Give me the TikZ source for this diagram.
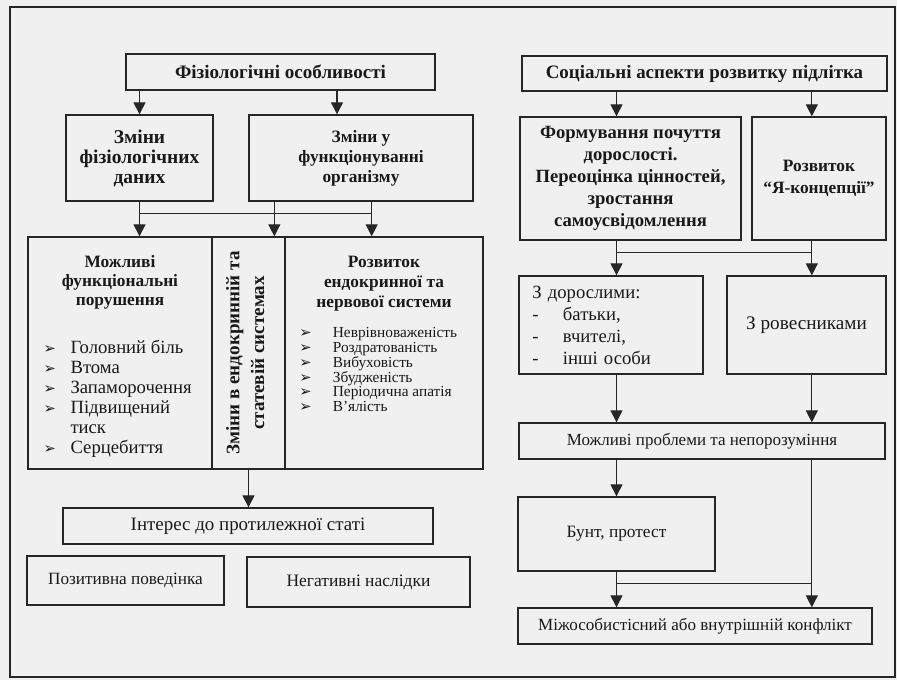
\documentclass[tikz,border=0pt]{standalone}
\usepackage{fontspec}
\setmainfont{Liberation Serif}
\newfontfamily\symfont{DejaVu Sans}
\usetikzlibrary{arrows.meta, positioning}
\tikzset{
  box/.style={
    draw,
    rectangle,
    line width=1pt,
    align=center,
    inner sep=0pt,
    font=\fontsize{13}{15}\selectfont
  },
  boldbox/.style={
    box,
    font=\fontsize{13}{16}\selectfont\bfseries
  },
  arrow/.style={
    -{Triangle[length=9pt,width=9pt]},
    line width=0.9pt
  },
  link/.style={
    line width=0.9pt
  }
}
\newcommand{\pnt}{{\symfont\fontsize{11}{11}\selectfont ➢}}

\begin{document}
\begin{tikzpicture}[x=0.75pt,y=-0.75pt, draw=black!85, text=black!90]

\useasboundingbox (0,0) rectangle (897,680);
\fill[black!6] (0,0) rectangle (897,680);
\draw[line width=2pt] (10,7) rectangle (895,677);

% --- Ліва гілка: фізіологія ---
\node[boldbox, minimum width=231.75pt, minimum height=27pt, font=\fontsize{14.3}{16}\selectfont\bfseries] (fiz) at (280.5,72) {Фізіологічні особливості};
\node[boldbox, minimum width=110.25pt, minimum height=64.5pt, font=\fontsize{14.6}{15}\selectfont\bfseries] (zmfiz) at (139.5,158) {Зміни\\фізіологічних\\даних};
\node[boldbox, minimum width=168pt, minimum height=64.5pt, font=\fontsize{13}{15}\selectfont\bfseries] (zmorg) at (361,158) {Зміни у\\функціонуванні\\організму};

% --- Три колонки ---
\node[box, minimum width=138pt, minimum height=174pt] (col1) at (120,353) {};
\node[box, minimum width=54.75pt, minimum height=174pt] (col2) at (248.5,353) {};
\node[box, minimum width=148.5pt, minimum height=174pt] (col3) at (384,353) {};

\node[below=11pt of col1.north, align=center, font=\fontsize{13}{14}\selectfont\bfseries] (col1title) {Можливі\\функціональні\\порушення};
\coordinate (l1) at ([xshift=12pt,yshift=-19pt]col1title.south -| col1.west);
\node[anchor=north west, inner sep=0pt, font=\fontsize{14}{15}\selectfont] (col1list) at (l1)
{\begin{tabular}{@{}l@{\hspace{11pt}}l@{}}
\pnt & Головний біль\\
\pnt & Втома\\
\pnt & Запаморочення\\
\pnt & Підвищений\\
     & тиск\\
\pnt & Серцебиття
\end{tabular}};

\node[rotate=90, align=center, inner sep=0pt, font=\fontsize{14.3}{18.5}\selectfont\bfseries] (col2text) at ([xshift=-2.5pt]col2.center) {Зміни в ендокринній та\\статевій системах};

\node[below=11pt of col3.north, align=center, font=\fontsize{13}{15}\selectfont\bfseries] (col3title) {Розвиток\\ендокринної та\\нервової системи};
\coordinate (l3) at ([xshift=11pt,yshift=-9pt]col3title.south -| col3.west);
\node[anchor=north west, inner sep=0pt, font=\fontsize{11.5}{10.4}\selectfont] (col3list) at (l3)
{\begin{tabular}{@{}l@{\hspace{16pt}}l@{}}
\pnt & Неврівноваженість\\
\pnt & Роздратованість\\
\pnt & Вибуховість\\
\pnt & Збудженість\\
\pnt & Періодична апатія\\
\pnt & В’ялість
\end{tabular}};

\node[box, minimum width=277.5pt, minimum height=27pt, font=\fontsize{14.2}{16}\selectfont] (interes) at (248,526) {Інтерес до протилежної статі};
\node[box, minimum width=147.75pt, minimum height=36.75pt, font=\fontsize{12.9}{14}\selectfont] (pozyt) at (125.5,580.5) {Позитивна поведінка};
\node[box, minimum width=167.25pt, minimum height=37.5pt, font=\fontsize{13.1}{14}\selectfont] (neg) at (358.5,582) {Негативні наслідки};

% --- Права гілка: соціальні аспекти ---
\node[boldbox, minimum width=273.75pt, minimum height=26.25pt, font=\fontsize{14.2}{16}\selectfont\bfseries] (soc) at (704.5,73.5) {Соціальні аспекти розвитку підлітка};
\node[boldbox, minimum width=165.75pt, minimum height=92.25pt, font=\fontsize{14}{16.5}\selectfont\bfseries] (form) at (630.5,178.5) {Формування почуття\\дорослості.\\Переоцінка цінностей,\\зростання\\самоусвідомлення};
\node[boldbox, minimum width=100.5pt, minimum height=92.25pt, font=\fontsize{13}{16.5}\selectfont\bfseries] (yakon) at (819,178.5) {Розвиток\\“Я-концепції”};

\node[box, text width=118pt, inner xsep=10pt, minimum height=73.5pt, align=left, font=\fontsize{14}{16.5}\selectfont] (doros) at (611,325)
{З дорослими:\\\makebox[23pt][l]{-}батьки,\\\makebox[23pt][l]{-}вчителі,\\\makebox[23pt][l]{-}інші особи};
\node[box, minimum width=119.25pt, minimum height=73.5pt, font=\fontsize{14.4}{16}\selectfont] (roves) at (806.5,325) {З ровесниками};

\node[box, minimum width=274.5pt, minimum height=27pt, font=\fontsize{12.75}{14}\selectfont] (probl) at (702,441) {Можливі проблеми та непорозуміння};
\node[box, minimum width=147.75pt, minimum height=55.5pt, font=\fontsize{13}{14}\selectfont] (bunt) at (616.5,534) {Бунт, протест};
\node[box, minimum width=265.5pt, minimum height=27pt, font=\fontsize{12.8}{14}\selectfont] (mizh) at (695,626) {Міжособистісний або внутрішній конфлікт};

% --- Точки розгалуження ---
\coordinate (c2) at ([xshift=-65pt]zmorg.south);
\coordinate (c3) at ([xshift=8pt]zmorg.south);
\coordinate (bus1) at ([yshift=-9pt]zmfiz.south);
\coordinate (rx) at ([xshift=4pt]roves.north);
\coordinate (bus2) at ([yshift=-9pt]form.south);
\coordinate (bus3) at ([yshift=-9pt]bunt.south);

% --- Стрілки зліва ---
\draw[arrow] (fiz.south -| zmfiz.north) -- (zmfiz.north);
\draw[arrow] ([xshift=-18pt]zmorg.north |- fiz.south) -- ([xshift=-18pt]zmorg.north);
\draw[arrow] (zmfiz.south) -- (zmfiz.south |- col1.north);
\draw[arrow] (c2) -- (c2 |- col2.north);
\draw[arrow] (c3) -- (c3 |- col3.north);
\draw[link] (bus1) -- (bus1 -| c3);
\draw[arrow] (col2.south) -- (col2.south |- interes.north);

% --- Стрілки справа ---
\draw[arrow] (soc.south -| bunt.north) -- (form.north -| bunt.north);
\draw[arrow] (soc.south -| rx) -- (yakon.north -| rx);
\draw[arrow] (form.south -| bunt.north) -- (doros.north -| bunt.north);
\draw[arrow] (yakon.south -| rx) -- (roves.north -| rx);
\draw[link] (bus2 -| bunt.north) -- (bus2 -| rx);
\draw[arrow] (doros.south -| bunt.north) -- (probl.north -| bunt.north);
\draw[arrow] (roves.south -| rx) -- (probl.north -| rx);
\draw[arrow] (probl.south -| bunt.north) -- (bunt.north);
\draw[arrow] (bunt.south) -- (bunt.south |- mizh.north);
\draw[arrow] (probl.south -| rx) -- (mizh.north -| rx);
\draw[link] (bus3) -- (bus3 -| rx);

\end{tikzpicture}
\end{document}
